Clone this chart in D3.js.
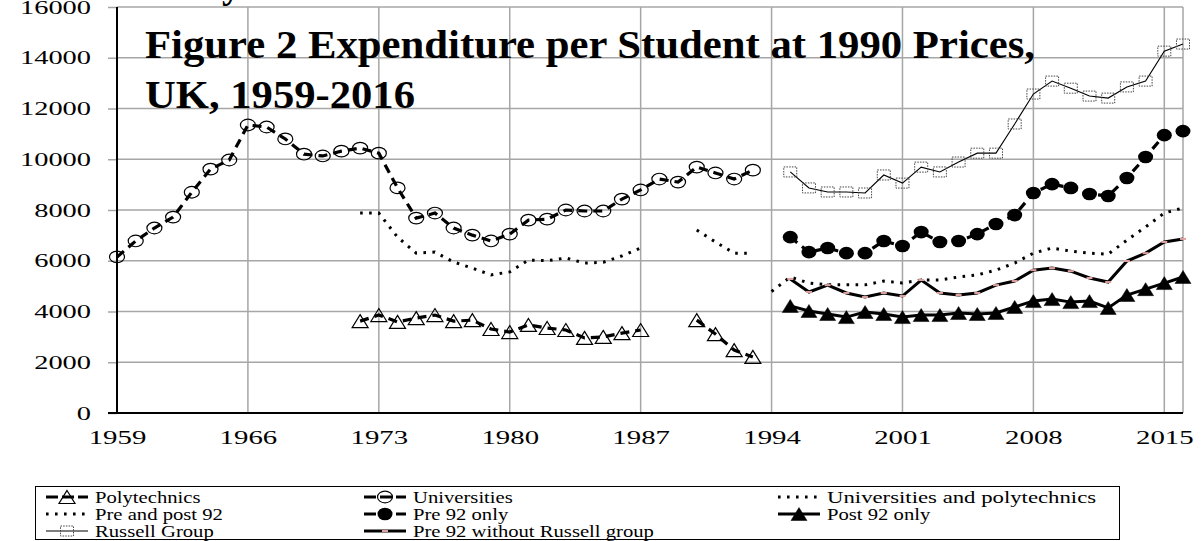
<!DOCTYPE html>
<html>
<head>
<meta charset="utf-8">
<script src="https://d3js.org/d3.v7.min.js"></script>
<style>
  body { margin: 0; background: #fff; }
  text { font-family: 'Liberation Serif', 'Times New Roman', serif; fill: #000; }
</style>
</head>
<body>
<svg id="chart" width="1204" height="541"></svg>
<script>
// Data (1990 prices, £ per student)
var uniYears = d3.range(1959, 1994)
var universities = [6150, 6780, 7290, 7720, 8700, 9610, 9970, 11350, 11270, 10800, 10200, 10130,
  10320, 10440, 10240, 8870, 7680, 7880, 7290, 7010, 6780, 7050, 7600, 7640, 8000, 7960, 7960,
  8430, 8790, 9220, 9100, 9690, 9460, 9220, 9570]

var polyYears = d3.range(1972, 1994)
var polytechnics = [3620, 3860, 3590, 3740, 3860, 3620, 3660, 3310, 3190, 3470, 3350, 3270, 2960,
  3000, 3150, 3270, null, null, 3660, 3110, 2480, 2210]
var uniAndPoly = [7880, 7880, 6930, 6300, 6340, 5950, 5710, 5440, 5560, 6030, 6000, 6110, 5910,
  5940, 6190, 6500, null, null, 7210, 6740, 6300, 6300]

var prePostYears = d3.range(1994, 2017)
var prePost92 = [4790, 5360, 5120, 5050, 5050, 5050, 5200, 5120, 5240, 5240, 5360, 5440, 5630,
  5910, 6300, 6500, 6380, 6300, 6260, 6810, 7330, 7880, 8080]

var lateYears = d3.range(1995, 2017)
var pre92 = [6930, 6340, 6500, 6300, 6300, 6780, 6580, 7130, 6740, 6780, 7050, 7450, 7800, 8670,
  9020, 8870, 8630, 8550, 9260, 10090, 10950, 11110]
var post92 = [4220, 4020, 3900, 3780, 3980, 3900, 3780, 3860, 3860, 3940, 3900, 3940, 4180, 4410,
  4490, 4370, 4410, 4140, 4650, 4880, 5120, 5360]
var russell = [9500, 8870, 8710, 8710, 8670, 9380, 9060, 9690, 9500, 9890, 10240, 10240, 11390,
  12570, 13080, 12800, 12490, 12410, 12850, 13080, 14260, 14540]
var pre92NoRussell = [5280, 4770, 5040, 4730, 4570, 4730, 4610, 5240, 4730, 4650, 4730, 5040, 5200,
  5630, 5710, 5590, 5320, 5160, 5990, 6300, 6740, 6860]

var yTicks = [0, 2000, 4000, 6000, 8000, 10000, 12000, 14000, 16000]
var xTicks = [1959, 1966, 1973, 1980, 1987, 1994, 2001, 2008, 2015]

var titleLines = ['Figure 2 Expenditure per Student at 1990 Prices,', 'UK, 1959-2016']
var legendNames = ['Polytechnics', 'Universities', 'Universities and polytechnics',
  'Pre and post 92', 'Pre 92 only', 'Post 92 only',
  'Russell Group', 'Pre 92 without Russell group']

// series -> style
var series = [
  { years: polyYears, values: polytechnics, line: 'dash', marker: 'triOpen' },
  { years: uniYears, values: universities, line: 'dash', marker: 'circleOpen' },
  { years: polyYears, values: uniAndPoly, line: 'dot', marker: null },
  { years: prePostYears, values: prePost92, line: 'dot', marker: null },
  { years: lateYears, values: pre92, line: 'dash', marker: 'circleFilled' },
  { years: lateYears, values: post92, line: 'solid', marker: 'triFilled' },
  { years: lateYears, values: russell, line: 'thin', marker: 'square' },
  { years: lateYears, values: pre92NoRussell, line: 'solid', marker: 'pink' }
]

// Layout
var svg = d3.select('#chart')
var plotLeft = 117, plotRight = 1183, plotTop = 7, plotBottom = 413
var gridColor = '#a6a6a6'

var x = d3.scaleLinear().domain([1959, 2016]).range([plotLeft, plotRight])
var y = d3.scaleLinear().domain([0, 16000]).range([plotBottom, plotTop])

function stretchTo(sel, perChar) {
  sel.attr('textLength', function () { return this.textContent.length * perChar })
    .attr('lengthAdjust', 'spacingAndGlyphs')
}
function stretchBy(sel, k) {
  sel.each(function () {
    var w = this.getComputedTextLength()
    d3.select(this).attr('textLength', w * k).attr('lengthAdjust', 'spacingAndGlyphs')
  })
}

// grid
svg.append('g').selectAll('line').data(yTicks.filter(function (d) { return d > 0 }))
  .join('line')
  .attr('x1', plotLeft).attr('x2', plotRight)
  .attr('y1', function (d) { return y(d) }).attr('y2', function (d) { return y(d) })
  .attr('stroke', gridColor).attr('stroke-width', 1.5)

svg.append('g').selectAll('line').data(xTicks.filter(function (d) { return d > 1959 }).concat([2016]))
  .join('line')
  .attr('x1', function (d) { return x(d) }).attr('x2', function (d) { return x(d) })
  .attr('y1', plotTop).attr('y2', plotBottom)
  .attr('stroke', gridColor).attr('stroke-width', 1.5)

// axes
var yAxis = svg.append('g').attr('transform', 'translate(' + plotLeft + ',0)')
  .call(d3.axisLeft(y).tickValues(yTicks).tickSizeInner(9).tickSizeOuter(0).tickPadding(17)
    .tickFormat(d3.format('d')))
yAxis.select('.domain').remove()
yAxis.selectAll('line').attr('stroke', gridColor).attr('stroke-width', 1.5)
yAxis.selectAll('text').attr('font-size', 19).attr('font-family', 'Liberation Serif')
  .call(stretchTo, 14.2)

var xAxis = svg.append('g').attr('transform', 'translate(0,' + plotBottom + ')')
  .call(d3.axisBottom(x).tickValues(xTicks).tickSize(0).tickPadding(17.5)
    .tickFormat(d3.format('d')))
xAxis.select('.domain').remove()
xAxis.selectAll('text').attr('font-size', 19).attr('font-family', 'Liberation Serif')
  .call(stretchTo, 14.4)

svg.append('line').attr('x1', plotLeft - 9).attr('x2', plotRight).attr('y1', plotBottom).attr('y2', plotBottom)
  .attr('stroke', '#000').attr('stroke-width', 2)
svg.append('line').attr('x1', plotLeft).attr('x2', plotLeft).attr('y1', plotTop).attr('y2', plotBottom)
  .attr('stroke', '#000').attr('stroke-width', 2)

// line styles
function styleLine(sel, kind) {
  sel.attr('fill', 'none').attr('stroke', '#000')
  if (kind === 'dash') sel.attr('stroke-width', 3.2).attr('stroke-dasharray', '9,6')
  if (kind === 'dot') sel.attr('stroke-width', 3).attr('stroke-dasharray', '2.6,6.4')
  if (kind === 'solid') sel.attr('stroke-width', 3)
  if (kind === 'thin') sel.attr('stroke-width', 1.1)
}

function drawMarker(g, kind, cx, cy) {
  if (kind === 'circleOpen') {
    g.append('ellipse').attr('cx', cx).attr('cy', cy).attr('rx', 7.5).attr('ry', 5.8)
      .attr('fill', 'none').attr('stroke', '#000').attr('stroke-width', 1.2)
  } else if (kind === 'circleFilled') {
    g.append('ellipse').attr('cx', cx).attr('cy', cy).attr('rx', 7.5).attr('ry', 6.3)
      .attr('fill', '#000')
  } else if (kind === 'triOpen' || kind === 'triFilled') {
    var w = 8, h = 6.5
    g.append('path')
      .attr('d', 'M' + cx + ',' + (cy - h) + 'L' + (cx + w) + ',' + (cy + h) + 'L' + (cx - w) + ',' + (cy + h) + 'Z')
      .attr('fill', kind === 'triFilled' ? '#000' : 'none')
      .attr('stroke', '#000').attr('stroke-width', kind === 'triFilled' ? 0.5 : 1.2)
  } else if (kind === 'square') {
    g.append('rect').attr('x', cx - 6.5).attr('y', cy - 5).attr('width', 13).attr('height', 10)
      .attr('fill', 'none').attr('stroke', '#444').attr('stroke-width', 1)
      .attr('stroke-dasharray', '1.5,1.2')
  } else if (kind === 'pink') {
    g.append('rect').attr('x', cx - 3).attr('y', cy - 1).attr('width', 6).attr('height', 2)
      .attr('fill', '#e0a0a0')
  }
}

var line = d3.line()
  .defined(function (d) { return d.v != null })
  .x(function (d) { return x(d.year) })
  .y(function (d) { return y(d.v) })

var plot = svg.append('g')
series.forEach(function (s) {
  var pts = s.years.map(function (yr, i) { return { year: yr, v: s.values[i] } })
  plot.append('path').datum(pts).attr('d', line).call(styleLine, s.line)
  if (s.marker) {
    var mg = plot.append('g')
    pts.filter(function (d) { return d.v != null }).forEach(function (d) {
      drawMarker(mg, s.marker, x(d.year), y(d.v))
    })
  }
})

// title (text box laid over the plot)
svg.append('text').attr('x', 222).attr('y', -2).attr('font-size', 38).attr('font-weight', 'bold')
  .text('y')
var title = svg.append('g')
title.append('text').attr('x', 145).attr('y', 58).attr('font-size', 39).attr('font-weight', 'bold')
  .text(titleLines[0]).attr('textLength', 890).attr('lengthAdjust', 'spacingAndGlyphs')
title.append('text').attr('x', 145).attr('y', 108).attr('font-size', 39).attr('font-weight', 'bold')
  .text(titleLines[1]).attr('textLength', 270).attr('lengthAdjust', 'spacingAndGlyphs')

// legend
var legend = svg.append('g')
legend.append('rect').attr('x', 35.5).attr('y', 486.5).attr('width', 1084).attr('height', 53)
  .attr('fill', '#fff').attr('stroke', '#000').attr('stroke-width', 1)
var colX = [46, 364, 778]
var rowY = [497, 514, 531]
legendNames.forEach(function (name, i) {
  var s = series[i]
  var lx = colX[i % 3], ly = rowY[Math.floor(i / 3)]
  var g = legend.append('g')
  g.append('line').attr('x1', lx).attr('x2', lx + 42).attr('y1', ly).attr('y2', ly)
    .call(styleLine, s.line)
  if (s.line === 'dash') g.select('line').attr('stroke-dasharray', '12,4')
  if (s.marker) drawMarker(g, s.marker, lx + 21, ly)
  g.append('text').attr('x', lx + 49).attr('y', ly + 5.5).attr('font-size', 17.5).text(name)
    .call(stretchBy, i === 2 ? 1.3 : 1.18)
})
</script>
</body>
</html>
